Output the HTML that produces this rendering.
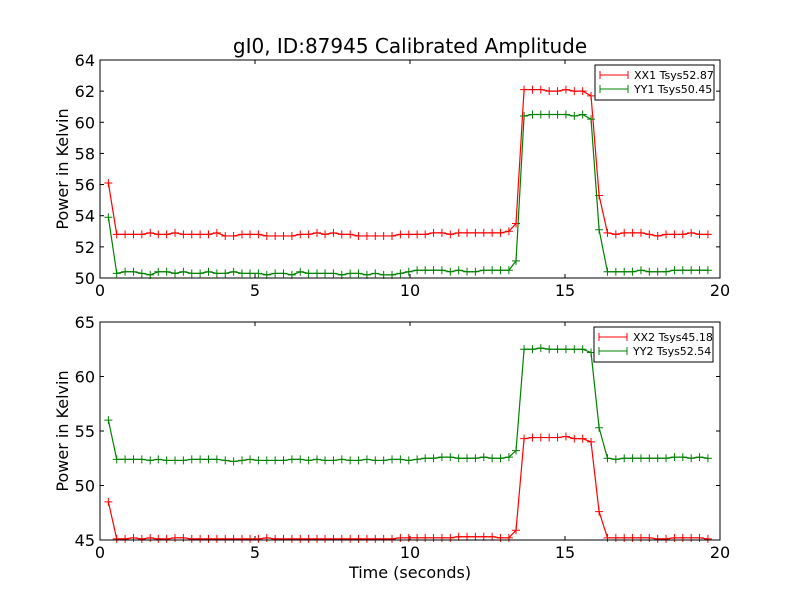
<!DOCTYPE html>
<html><head><meta charset="utf-8"><style>
html,body{margin:0;padding:0;background:#fff;}
svg{display:block;font-family:"DejaVu Sans","Liberation Sans",sans-serif;}
</style></head><body>
<svg id="chart" width="800" height="600" viewBox="0 0 800 600" xmlns="http://www.w3.org/2000/svg">
<rect width="800" height="600" fill="#fff"/>
<text x="410" y="53" font-size="20" text-anchor="middle">gI0, ID:87945 Calibrated Amplitude</text>
<text x="410" y="578" font-size="16" text-anchor="middle">Time (seconds)</text>
<g id="g1"></g>
<g id="g2"></g>
</svg>
<script>
const times = [0.27,0.54,0.81,1.08,1.35,1.62,1.88,2.15,2.42,2.69,2.96,3.23,3.50,3.77,4.04,4.31,4.58,4.84,5.11,5.38,5.65,5.92,6.19,6.46,6.73,7.00,7.26,7.53,7.80,8.07,8.34,8.61,8.88,9.15,9.42,9.69,9.96,10.23,10.49,10.76,11.03,11.30,11.57,11.84,12.11,12.38,12.65,12.92,13.19,13.42,13.68,13.95,14.22,14.49,14.76,15.03,15.30,15.57,15.84,16.10,16.37,16.64,16.91,17.18,17.45,17.72,17.99,18.26,18.53,18.80,19.07,19.34,19.61];
const xx1 = [56.1,
52.8,52.8,52.8,52.8,52.9,52.8,52.8,52.9,52.8,52.8,
52.8,52.8,52.9,52.7,52.7,52.8,52.8,52.8,52.7,52.7,
52.7,52.7,52.8,52.8,52.9,52.8,52.9,52.8,52.8,52.7,
52.7,52.7,52.7,52.7,52.8,52.8,52.8,52.8,52.9,52.9,
52.8,52.9,52.9,52.9,52.9,52.9,52.9,53.0,
53.5,
62.1,62.1,62.1,62.0,62.0,62.1,62.0,62.0,
61.7,55.3,
52.9,52.8,52.9,52.9,52.9,52.8,52.7,52.8,52.8,52.8,52.9,52.8,52.8];
const yy1 = [53.9,
50.3,50.4,50.4,50.3,50.2,50.4,50.4,50.3,50.4,50.3,
50.3,50.4,50.3,50.3,50.4,50.3,50.3,50.3,50.2,50.3,
50.3,50.2,50.4,50.3,50.3,50.3,50.3,50.2,50.3,50.3,
50.2,50.3,50.2,50.2,50.3,50.4,50.5,50.5,50.5,50.5,
50.4,50.5,50.4,50.4,50.5,50.5,50.5,50.5,
51.1,
60.4,60.5,60.5,60.5,60.5,60.5,60.4,60.5,
60.2,53.1,
50.4,50.4,50.4,50.4,50.5,50.4,50.4,50.4,50.5,50.5,50.5,50.5,50.5];
const xx2 = [48.5,
45.1,45.1,45.2,45.1,45.2,45.1,45.1,45.2,45.2,45.1,
45.1,45.1,45.1,45.1,45.1,45.1,45.1,45.1,45.2,45.1,
45.1,45.1,45.1,45.1,45.1,45.1,45.1,45.1,45.1,45.1,
45.1,45.1,45.1,45.1,45.2,45.2,45.2,45.2,45.2,45.2,
45.2,45.3,45.3,45.3,45.3,45.3,45.2,45.2,
45.9,
54.3,54.4,54.4,54.4,54.4,54.5,54.3,54.3,
54.0,47.6,
45.2,45.2,45.2,45.2,45.2,45.2,45.1,45.1,45.2,45.2,45.2,45.2,45.1];
const yy2 = [56.0,
52.4,52.4,52.4,52.4,52.3,52.4,52.3,52.3,52.3,52.4,
52.4,52.4,52.4,52.3,52.2,52.3,52.4,52.3,52.3,52.3,
52.3,52.4,52.4,52.3,52.4,52.3,52.3,52.4,52.3,52.3,
52.4,52.3,52.3,52.4,52.4,52.3,52.4,52.5,52.5,52.6,
52.6,52.5,52.5,52.5,52.6,52.5,52.5,52.6,
53.2,
62.5,62.5,62.6,62.5,62.5,62.5,62.5,62.5,
62.2,55.3,
52.5,52.4,52.5,52.5,52.5,52.5,52.5,52.5,52.6,52.6,52.5,52.6,52.5];
const xTicks = [0,5,10,15,20];
const yTicks1 = [50,52,54,56,58,60,62,64];
const yTicks2 = [45,50,55,60,65];
const legend1 = ["XX1 Tsys52.87","YY1 Tsys50.45"];
const legend2 = ["XX2 Tsys45.18","YY2 Tsys52.54"];

const NS="http://www.w3.org/2000/svg";
function mk(tag, attrs, parent){const e=document.createElementNS(NS,tag);for(const k in attrs)e.setAttribute(k,attrs[k]);parent.appendChild(e);return e;}

function panel(g, top, bottom, ymin, ymax, yTicks, sA, sB, leg, legX, legY){
  const L=100,R=720;
  const sx=v=>L+(v-0)/(20-0)*(R-L);
  const sy=v=>bottom-(v-ymin)/(ymax-ymin)*(bottom-top);
  xTicks.forEach(t=>{
    const x=sx(t);
    const a=mk('line',{x1:x,x2:x,y1:bottom,y2:bottom-4,stroke:'#000'},g);
    
    
    mk('line',{x1:x,x2:x,y1:top,y2:top+4,stroke:'#000'},g);
    const tx=mk('text',{x:x,y:bottom+18,'font-size':16,'text-anchor':'middle'},g);
    
    
    tx.textContent=t;
  });
  yTicks.forEach(t=>{
    const y=sy(t);
    const a=mk('line',{x1:L,x2:L+4,y1:y,y2:y,stroke:'#000'},g);
    
    
    mk('line',{x1:R,x2:R-4,y1:y,y2:y,stroke:'#000'},g);
    const tx=mk('text',{x:L-5,y:y+6,'font-size':16,'text-anchor':'end'},g);
    
    
    tx.textContent=t;
  });
  const yl=mk('text',{x:0,y:0,'font-size':16,'text-anchor':'middle',transform:`translate(68,${(top+bottom)/2}) rotate(-90)`},g);
  
  
  yl.textContent='Power in Kelvin';
  [[sA,'#ff0000'],[sB,'#008000']].forEach(([s,c],k)=>{
    const pts=s.map((v,i)=>sx(times[i])+','+sy(v)).join(' ');
    const pl=mk('polyline',{points:pts,fill:'none',stroke:c,'stroke-width':1.2},g);
    
    
    s.forEach((v,i)=>{
      const x=sx(times[i]),y=sy(v);
      const m=mk('path',{d:`M${x-4},${y}H${x+4}M${x},${y-4}V${y+4}`,stroke:c,'stroke-width':1},g);
      
      
    });
  });
  const fr=mk('rect',{x:L,y:top,width:R-L,height:bottom-top,fill:'none',stroke:'#000','stroke-width':1},g);
  
  
  const lg=mk('g',{},g);
  
  
  mk('rect',{x:legX,y:legY,width:119,height:35,fill:'#fff',stroke:'#000'},lg);
  leg.forEach((txt,k)=>{
    const c=k===0?'#ff0000':'#008000';
    const y=legY+10+k*14;
    mk('line',{x1:legX+5,x2:legX+33,y1:y,y2:y,stroke:c},lg);
    mk('path',{d:`M${legX+5},${y-4}V${y+4}M${legX+33},${y-4}V${y+4}`,stroke:c},lg);
    const t=mk('text',{x:legX+39,y:y+4,'font-size':11},lg);
    
    
    t.textContent=txt;
  });
}
panel(document.getElementById('g1'),60,278,50,64,yTicks1,xx1,yy1,legend1,595,65);
panel(document.getElementById('g2'),322,540,45,65,yTicks2,xx2,yy2,legend2,594,327);
</script>
</body></html>
